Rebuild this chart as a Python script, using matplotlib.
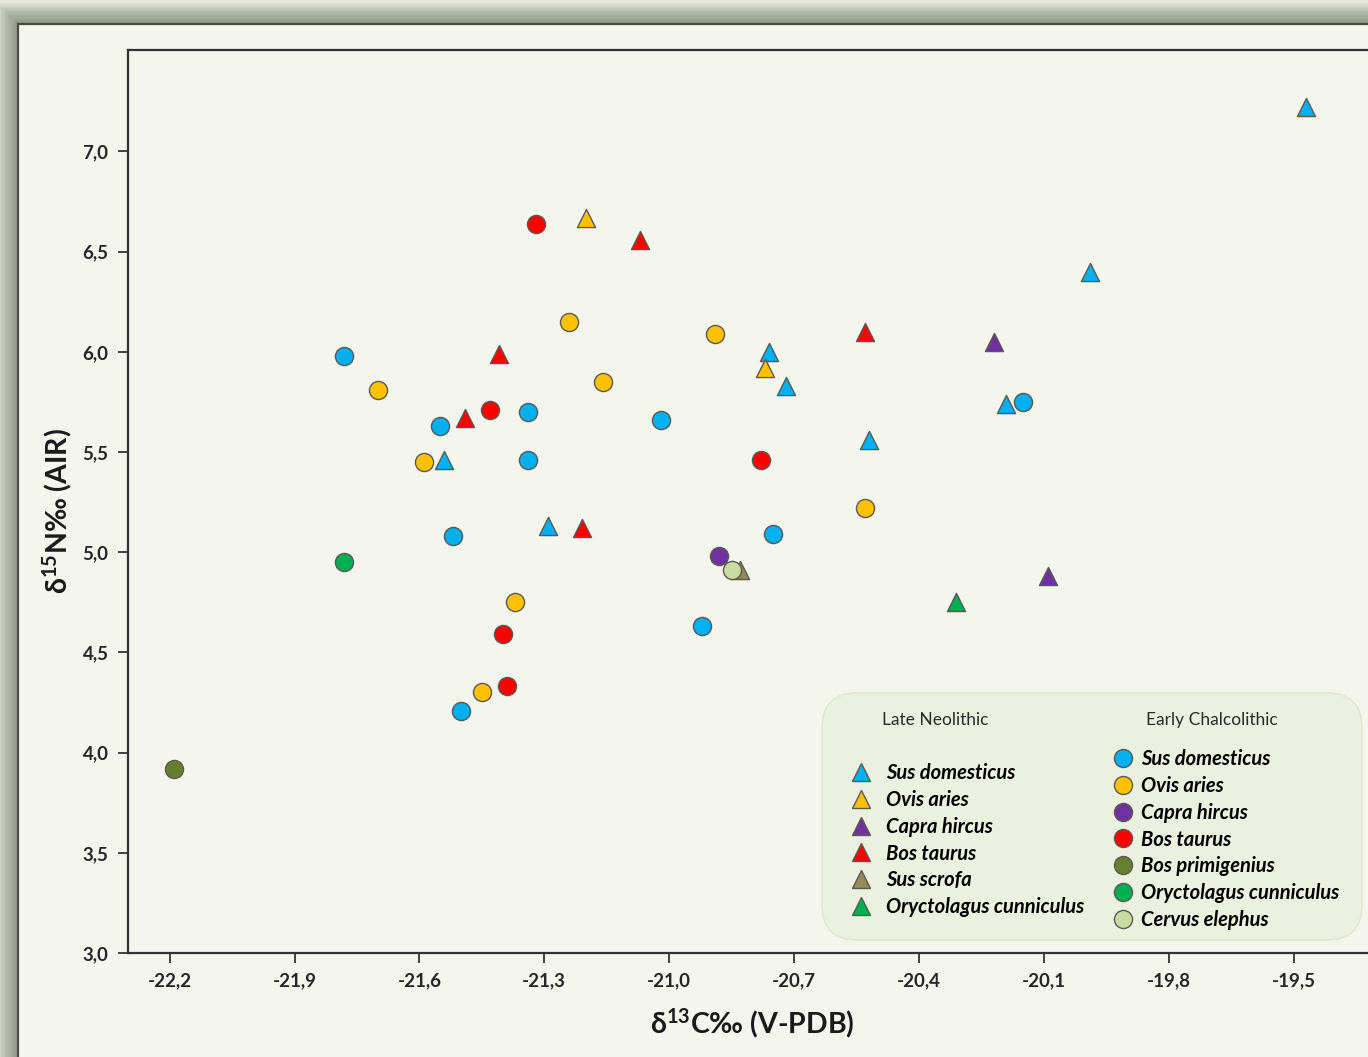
import matplotlib
matplotlib.use("Agg")
import matplotlib.pyplot as plt
from matplotlib.patches import Rectangle, FancyBboxPatch
from matplotlib.lines import Line2D

plt.rcParams['font.family'] = ['Lato', 'DejaVu Sans']
plt.rcParams['mathtext.fontset'] = 'custom'
plt.rcParams['mathtext.bf'] = 'Lato:bold'
plt.rcParams['mathtext.rm'] = 'Lato'

# Late Neolithic (triangles): d13C, d15N
ln_species = ['Sus domesticus', 'Ovis aries', 'Capra hircus', 'Bos taurus',
              'Sus scrofa', 'Oryctolagus cunniculus']
ln_x = [
    [-19.47, -19.99, -20.76, -20.72, -20.19, -20.52, -21.54, -21.29],
    [-21.20, -20.77],
    [-20.22, -20.09],
    [-21.07, -21.41, -21.49, -20.53, -21.21],
    [-20.83],
    [-20.31],
]
ln_y = [
    [7.22, 6.40, 6.00, 5.83, 5.74, 5.56, 5.46, 5.13],
    [6.67, 5.92],
    [6.05, 4.88],
    [6.56, 5.99, 5.67, 6.10, 5.12],
    [4.91],
    [4.75],
]
ln_colors = ['#00b0f0', '#ffc000', '#7030a0', '#ff0000', '#948a54', '#00b050']

# Early Chalcolithic (circles)
ec_species = ['Sus domesticus', 'Ovis aries', 'Capra hircus', 'Bos taurus',
              'Bos primigenius', 'Oryctolagus cunniculus', 'Cervus elephus']
ec_x = [
    [-21.78, -21.55, -21.34, -21.34, -21.02, -21.52, -20.75, -20.92, -21.50, -20.15],
    [-21.24, -20.89, -21.70, -21.16, -21.59, -20.53, -21.37, -21.45],
    [-20.88],
    [-21.32, -21.43, -20.78, -21.40, -21.39],
    [-22.19],
    [-21.78],
    [-20.85],
]
ec_y = [
    [5.98, 5.63, 5.70, 5.46, 5.66, 5.08, 5.09, 4.63, 4.21, 5.75],
    [6.15, 6.09, 5.81, 5.85, 5.45, 5.22, 4.75, 4.30],
    [4.98],
    [6.64, 5.71, 5.46, 4.59, 4.33],
    [3.92],
    [4.95],
    [4.91],
]
ec_colors = ['#00b0f0', '#ffc000', '#7030a0', '#ff0000', '#667f2f', '#00b050', '#c9dba0']

xticks = [-22.2, -21.9, -21.6, -21.3, -21.0, -20.7, -20.4, -20.1, -19.8, -19.5]
yticks = [3.0, 3.5, 4.0, 4.5, 5.0, 5.5, 6.0, 6.5, 7.0]

W, H = 1368, 1057
fig = plt.figure(figsize=(W / 100, H / 100), dpi=100)
fig.patch.set_facecolor('#e4e7d8')

# soft shadow around the panel frame
fx0, fy_top = 18 / W, 1 - 24 / H
for k in range(16, 0, -1):
    dx, dy = k * 1.3 / W, k * 1.3 / H
    fig.patches.append(Rectangle((fx0 - dx, -0.1), 1.2, fy_top + 0.1 + dy,
                                 transform=fig.transFigure, facecolor='#5f644f',
                                 edgecolor='none', alpha=0.05, zorder=-3))
fig.patches.append(Rectangle((fx0, -0.1), 1.2, fy_top + 0.1,
                             transform=fig.transFigure, facecolor='#f4f6ee',
                             edgecolor='#4a4a44', linewidth=1.6, zorder=-2))

# axes run just past the right edge of the figure
x_lo, x_hi = -22.30, -19.30
px_per_unit = 416.3
ax_left = 128 / W
ax_w = (x_hi - x_lo) * px_per_unit / W
ax = fig.add_axes([ax_left, 1 - 953 / H, ax_w, (953 - 50) / H])
ax.set_facecolor('none')

ms = 170
for xs, ys, c in zip(ln_x, ln_y, ln_colors):
    ax.scatter(xs, ys, s=ms, marker='^', facecolor=c, edgecolor='#5a5a55',
               linewidth=1.0, zorder=3)
for xs, ys, c in zip(ec_x, ec_y, ec_colors):
    ax.scatter(xs, ys, s=ms, marker='o', facecolor=c, edgecolor='#5a5a55',
               linewidth=1.0, zorder=3)

ax.set_xlim(x_lo, x_hi)
ax.set_ylim(3.0, 7.506)
ax.set_xticks(xticks)
ax.set_yticks(yticks)
ax.set_xticklabels([f'{v:.1f}'.replace('.', ',') for v in xticks])
ax.set_yticklabels([f'{v:.1f}'.replace('.', ',') for v in yticks])
ax.tick_params(direction='out', length=7, width=1.3, color='#333333',
               labelsize=13.5, labelcolor='#262626', pad=7)
for lab in ax.get_xticklabels() + ax.get_yticklabels():
    lab.set_fontweight('bold')
for side in ['left', 'bottom', 'top', 'right']:
    ax.spines[side].set_color('#333333')
    ax.spines[side].set_linewidth(1.6)

ax.set_xlabel(r'δ$\mathbf{^{13}}$C‰ (V-PDB)', fontsize=20.5, fontweight='bold',
              labelpad=12, color='#1a1a1a')
fig.text(57 / W, 1 - 511 / H, r'δ$\mathbf{^{15}}$N‰ (AIR)', rotation=90,
         fontsize=20.5, fontweight='bold', ha='center', va='center',
         color='#1a1a1a')

# legend panel
box = FancyBboxPatch((8.22, (H - 940) / 100), 5.40, 2.47,
                     boxstyle='round,pad=0,rounding_size=0.35',
                     transform=fig.dpi_scale_trans, facecolor='#ebf0df',
                     edgecolor='#dfe7cc', linewidth=1.2, zorder=5)
fig.patches.append(box)

fig.text(935 / W, 1 - 720 / H, 'Late Neolithic', fontsize=12.5,
         color='#2b2b2b', ha='center', va='center', zorder=6)
fig.text(1212 / W, 1 - 720 / H, 'Early Chalcolithic', fontsize=12.5,
         color='#2b2b2b', ha='center', va='center', zorder=6)

ln_handles = [Line2D([], [], marker='^', linestyle='none', markersize=13,
                     markerfacecolor=c, markeredgecolor='#5a5a55')
              for c in ln_colors]
ec_handles = [Line2D([], [], marker='o', linestyle='none', markersize=13,
                     markerfacecolor=c, markeredgecolor='#5a5a55')
              for c in ec_colors]
leg_font = {'size': 14.5, 'weight': 'bold', 'style': 'italic'}
leg1 = fig.legend(ln_handles, ln_species, loc='upper left',
                  bbox_to_anchor=(851 / W, 1 - 763 / H), frameon=False,
                  prop=leg_font, labelspacing=0.34, handletextpad=0.75,
                  handlelength=1.0, borderpad=0, borderaxespad=0)
leg2 = fig.legend(ec_handles, ec_species, loc='upper left',
                  bbox_to_anchor=(1113 / W, 1 - 749 / H), frameon=False,
                  prop=leg_font, labelspacing=0.34, handletextpad=0.4,
                  handlelength=1.0, borderpad=0, borderaxespad=0)
for leg in (leg1, leg2):
    leg.set_zorder(7)

fig.savefig('out.png', dpi=100)
